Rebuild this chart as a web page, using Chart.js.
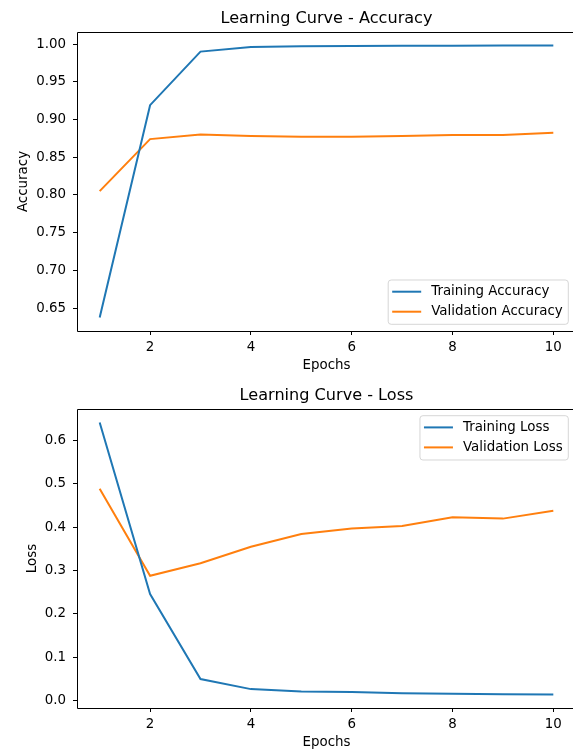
<!DOCTYPE html>
<html>
<head>
<meta charset="utf-8">
<script src="https://cdn.jsdelivr.net/npm/chart.js@4.4.1/dist/chart.umd.min.js"></script>
<style>
  html, body { margin: 0; padding: 0; background: #fff; overflow: hidden; width: 573px; height: 749px; }
  .panel { position: absolute; left: 0; width: 600px; height: 376px; }
  canvas { display: block; }
</style>
</head>
<body>
<div class="panel" style="top:0"><canvas id="accChart" width="600" height="376"></canvas></div>
<div class="panel" style="top:377px"><canvas id="lossChart" width="600" height="376"></canvas></div>
<script>
// Training history per epoch
const epochs = [1, 2, 3, 4, 5, 6, 7, 8, 9, 10];
const trainAccuracy = [0.6376, 0.919, 0.990, 0.996, 0.9972, 0.9975, 0.9977, 0.9978, 0.998, 0.998];
const valAccuracy   = [0.805, 0.874, 0.880, 0.878, 0.877, 0.877, 0.878, 0.8795, 0.8795, 0.8825];
const trainLoss     = [0.6415, 0.246, 0.050, 0.0267, 0.021, 0.0198, 0.017, 0.016, 0.015, 0.0145];
const valLoss       = [0.489, 0.288, 0.317, 0.355, 0.3845, 0.397, 0.403, 0.423, 0.420, 0.438];

// Tick positions and their labels
const epochTicks = [2, 4, 6, 8, 10];
const epochTickLabels = ['2', '4', '6', '8', '10'];
const accTicks = [0.65, 0.70, 0.75, 0.80, 0.85, 0.90, 0.95, 1.00];
const accTickLabels = ['0.65', '0.70', '0.75', '0.80', '0.85', '0.90', '0.95', '1.00'];
const lossTicks = [0.0, 0.1, 0.2, 0.3, 0.4, 0.5, 0.6];
const lossTickLabels = ['0.0', '0.1', '0.2', '0.3', '0.4', '0.5', '0.6'];

const BLUE = '#1f77b4';
const ORANGE = '#ff7f0e';
const FONT = 'DejaVu Sans';
const BASE = 13.4;

Chart.defaults.font.family = FONT;
Chart.defaults.color = '#000';

// axis limits with a 5% margin around the data
function padRange(values) {
  const lo = Math.min(...values), hi = Math.max(...values);
  const m = (hi - lo) * 0.05;
  return [lo - m, hi + m];
}

// frame around the plot area
const spines = {
  id: 'spines',
  afterDatasetsDraw(chart) {
    const { ctx, chartArea: a } = chart;
    ctx.save();
    ctx.strokeStyle = '#000';
    ctx.lineWidth = 1;
    ctx.beginPath();
    ctx.moveTo(Math.floor(a.left) + 0.5, Math.floor(a.bottom) + 0.5);
    ctx.lineTo(Math.floor(a.left) + 0.5, Math.floor(a.top) + 0.5);
    ctx.lineTo(Math.floor(a.right) + 0.5, Math.floor(a.top) + 0.5);
    ctx.lineTo(Math.floor(a.right) + 0.5, Math.floor(a.bottom) + 0.5);
    ctx.closePath();
    ctx.stroke();
    ctx.restore();
  }
};

// legend box drawn inside the plot area
const innerLegend = {
  id: 'innerLegend',
  afterDraw(chart, args, opts) {
    const { ctx, chartArea: a } = chart;
    const sets = chart.data.datasets;
    ctx.save();
    ctx.font = BASE + 'px "' + FONT + '"';
    const textW = Math.max(...sets.map(d => ctx.measureText(d.label).width));
    const padL = 4, handle = 29, gap = 10, padR = 5.6;
    const w = padL + handle + gap + textW + padR;
    const h = 44.3;
    const right = a.right - 7.7;
    const left = right - w;
    const top = opts.corner === 'lower' ? a.bottom - 6.7 - h : a.top + 6.7;
    // frame
    const r = 3;
    ctx.beginPath();
    ctx.moveTo(left + r, top);
    ctx.lineTo(left + w - r, top);
    ctx.arcTo(left + w, top, left + w, top + r, r);
    ctx.lineTo(left + w, top + h - r);
    ctx.arcTo(left + w, top + h, left + w - r, top + h, r);
    ctx.lineTo(left + r, top + h);
    ctx.arcTo(left, top + h, left, top + h - r, r);
    ctx.lineTo(left, top + r);
    ctx.arcTo(left, top, left + r, top, r);
    ctx.closePath();
    ctx.fillStyle = 'rgba(255,255,255,0.8)';
    ctx.fill();
    ctx.strokeStyle = 'rgba(204,204,204,0.8)';
    ctx.lineWidth = 1;
    ctx.stroke();
    // entries
    sets.forEach((d, i) => {
      const y = top + 11.7 + i * 20;
      ctx.strokeStyle = d.borderColor;
      ctx.lineWidth = 2;
      ctx.beginPath();
      ctx.moveTo(left + padL, y);
      ctx.lineTo(left + padL + handle, y);
      ctx.stroke();
      ctx.fillStyle = '#000';
      ctx.textBaseline = 'middle';
      ctx.textAlign = 'left';
      ctx.fillText(d.label, left + padL + handle + gap, y);
    });
    ctx.restore();
  }
};

function series(values) {
  return epochs.map((e, i) => ({ x: e, y: values[i] }));
}

function buildChart(id, cfg) {
  const [xMin, xMax] = padRange(epochs);
  const [yMin, yMax] = padRange(cfg.lines.flatMap(l => l.values));
  return new Chart(document.getElementById(id), {
    type: 'line',
    data: {
      datasets: cfg.lines.map(l => ({
        label: l.label,
        data: series(l.values),
        borderColor: l.color,
        backgroundColor: l.color,
        borderWidth: 2,
        pointRadius: 0,
        tension: 0,
        fill: false
      }))
    },
    options: {
      responsive: false,
      animation: false,
      events: [],
      layout: { padding: { left: 0, right: 24, top: 0, bottom: 0 } },
      plugins: {
        legend: { display: false },
        tooltip: { enabled: false },
        title: {
          display: true,
          fullSize: false,
          text: cfg.title,
          color: '#000',
          font: { family: FONT, size: 16.1, weight: 'normal' },
          padding: { top: 9.5, bottom: 3.18 }
        },
        innerLegend: { corner: cfg.legendCorner }
      },
      scales: {
        x: {
          type: 'linear',
          min: xMin,
          max: xMax,
          afterBuildTicks: s => { s.ticks = epochTicks.map(v => ({ value: v })); },
          afterFit: s => { s.height = 45; },
          ticks: {
            callback: (v, i) => epochTickLabels[i],
            font: { family: FONT, size: BASE },
            color: '#000',
            padding: 4,
            maxRotation: 0,
            autoSkip: false
          },
          grid: { drawOnChartArea: false, drawTicks: true, tickLength: 4, color: '#000', lineWidth: 1 },
          border: { display: false },
          title: {
            display: true,
            text: 'Epochs',
            color: '#000',
            font: { family: FONT, size: BASE },
            padding: { top: 0, bottom: 2.8 }
          }
        },
        y: {
          type: 'linear',
          min: yMin,
          max: yMax,
          afterBuildTicks: s => { s.ticks = cfg.yTicks.map(v => ({ value: v })); },
          afterFit: s => { s.width = 77; },
          ticks: {
            callback: (v, i) => cfg.yTickLabels[i],
            font: { family: FONT, size: BASE },
            color: '#000',
            padding: 7,
            autoSkip: false
          },
          grid: { drawOnChartArea: false, drawTicks: true, tickLength: 4, color: '#000', lineWidth: 1 },
          border: { display: false },
          title: {
            display: true,
            text: cfg.yTitle,
            color: '#000',
            font: { family: FONT, size: BASE },
            padding: { top: cfg.yTitlePad, bottom: 0 }
          }
        }
      }
    },
    plugins: [spines, innerLegend]
  });
}

buildChart('accChart', {
  title: 'Learning Curve - Accuracy',
  yTitle: 'Accuracy',
  yTitlePad: 15.7,
  yTicks: accTicks,
  yTickLabels: accTickLabels,
  legendCorner: 'lower',
  lines: [
    { label: 'Training Accuracy', values: trainAccuracy, color: BLUE },
    { label: 'Validation Accuracy', values: valAccuracy, color: ORANGE }
  ]
});

buildChart('lossChart', {
  title: 'Learning Curve - Loss',
  yTitle: 'Loss',
  yTitlePad: 24.7,
  yTicks: lossTicks,
  yTickLabels: lossTickLabels,
  legendCorner: 'upper',
  lines: [
    { label: 'Training Loss', values: trainLoss, color: BLUE },
    { label: 'Validation Loss', values: valLoss, color: ORANGE }
  ]
});
</script>
</body>
</html>
